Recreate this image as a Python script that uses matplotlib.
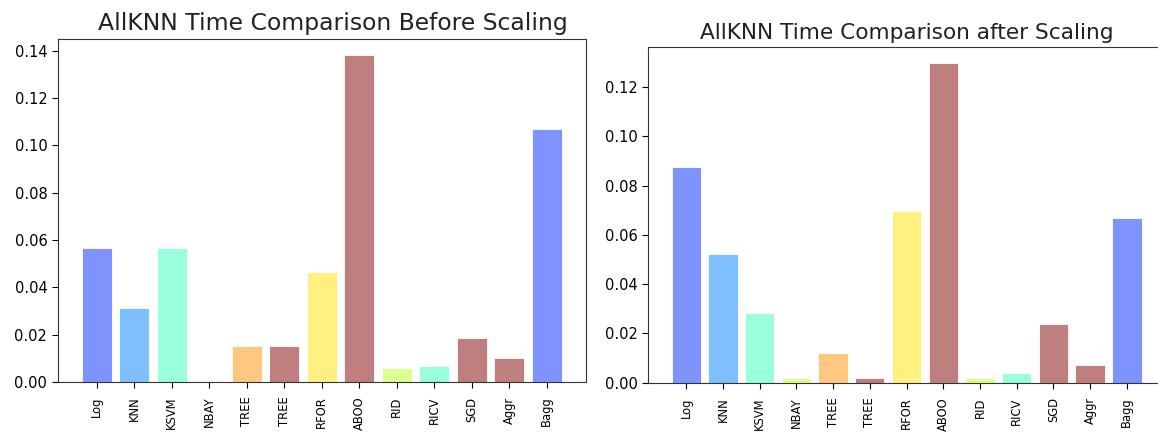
import matplotlib
matplotlib.use("Agg")
import matplotlib.pyplot as plt

models = ["Log", "KNN", "KSVM", "NBAY", "TREE", "TREE", "RFOR",
          "ABOO", "RID", "RICV", "SGD", "Aggr", "Bagg"]

time_before = [0.0568, 0.0313, 0.0567, 0.0002, 0.0152, 0.0152, 0.0467,
               0.1383, 0.0058, 0.0066, 0.0187, 0.0100, 0.1069]
time_after = [0.0877, 0.0522, 0.0283, 0.0019, 0.0120, 0.0019, 0.0696,
              0.1297, 0.0019, 0.0039, 0.0238, 0.0072, 0.0668]

bar_colors = ["#7f93ff", "#7fbfff", "#99ffdd", "#dcff8f", "#ffc77f",
              "#bf7f7f", "#fff07f", "#bf7f7f", "#dcff8f", "#99ffdd",
              "#bf7f7f", "#bf7f7f", "#7f93ff"]

W, H = 1158, 432
fig = plt.figure(figsize=(W / 100, H / 100), dpi=100)


def panel(rect, values, title, title_size, title_x):
    ax = fig.add_axes(rect)
    x = range(len(models))
    ax.bar(x, values, color=bar_colors, width=0.8,
           edgecolor="white", linewidth=0.6)
    ax.set_xticks(list(x))
    ax.set_xticklabels(models)
    ax.set_title(title, fontsize=title_size, pad=6, color="#222222",
                 x=title_x)
    ax.tick_params(axis="x", labelrotation=90, labelsize=8.3, length=4,
                   pad=6.5)
    ax.tick_params(axis="y", labelsize=10.5, length=4)
    for s in ax.spines.values():
        s.set_color("#333333")
    return ax


# left panel: before scaling
panel([57.7 / W, 1 - 382 / H, 528 / W, (382 - 38.5) / H],
      time_before, "AllKNN Time Comparison Before Scaling", 16.9, 0.521)

# right panel: after scaling (runs past the right edge)
panel([648 / W, 1 - 382.7 / H, 517 / W, (382.7 - 47.3) / H],
      time_after, "AllKNN Time Comparison after Scaling", 15.6, 0.5)

fig.savefig("out.png", dpi=100)
